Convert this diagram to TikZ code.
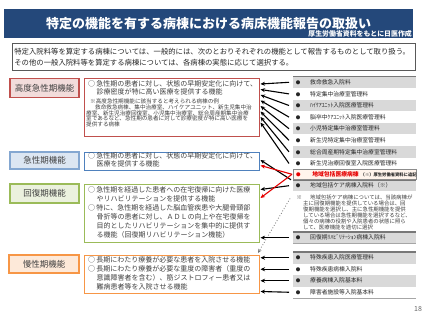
\documentclass[tikz,border=0pt]{standalone}
\usepackage{fontspec}
\setmainfont{Noto Sans CJK JP}
\usetikzlibrary{arrows.meta}
\definecolor{titlebg}{RGB}{36,72,122}
\definecolor{hkline}{RGB}{192,80,77}
\definecolor{hkfill}{RGB}{242,220,219}
\definecolor{kyline}{RGB}{79,129,189}
\definecolor{kyfill}{RGB}{220,230,242}
\definecolor{kaline}{RGB}{155,187,89}
\definecolor{kafill}{RGB}{235,241,222}
\definecolor{maline}{RGB}{247,150,70}
\definecolor{mafill}{RGB}{253,233,217}
\definecolor{rowgray}{RGB}{217,217,217}
\definecolor{divgray}{RGB}{120,120,120}
\definecolor{txtgray}{RGB}{64,64,64}
\definecolor{arrred}{RGB}{230,0,0}
\definecolor{ikifill}{RGB}{255,244,236}
\newcommand\fs[2]{\fontsize{#1}{#2}\selectfont}
\newcommand\bul{\makebox[10pt][c]{\fs{4.5}{5}●}\hspace*{7pt}}
\newcommand\ci{\makebox[8.3pt][l]{○}}
\newcommand\ind{\hspace*{8.3pt}}
\begin{document}
\begin{tikzpicture}[x=1pt,y=-1pt,
  lab/.style={draw, line width=1.3pt, minimum width=69pt, minimum height=19pt, inner sep=0, text=txtgray, font=\fs{8.5}{10}},
  desc/.style={draw, line width=1.1pt, inner sep=0, anchor=north west, minimum width=175pt},
  dtext/.style={anchor=west, inner sep=0, align=left, text=txtgray},
  row/.style={anchor=west, minimum height=11.6pt, text width=123pt, inner sep=0, align=left, font=\fs{5.8}{7}, text=black!85},
  arr/.style={-{Stealth[length=4.5pt,width=4pt]}, line width=1.1pt},
  divl/.style={draw=divgray, line width=1.4pt}
]
\useasboundingbox (0,0) rectangle (427,320);
\fill[white] (0,0) rectangle (427,320);

% title
\node[fill=titlebg, minimum width=409pt, minimum height=29pt, inner sep=0, text=white, font=\fs{13}{15}\bfseries] (bar) at (208.5,23.8) {特定の機能を有する病棟における病床機能報告の取扱い};
\node[anchor=east, inner sep=0, text=white, font=\fs{6.9}{8}\bfseries] (sub) at (412,33.5) {厚生労働省資料をもとに日医作成};

% intro
\node[draw=black!65, line width=.8pt, minimum height=27pt, text width=399pt, inner xsep=2pt, inner ysep=0, align=left, anchor=north west, font=\fs{7.35}{11}, text=black!85] (intro) at (12,43)
{特定入院料等を算定する病棟については、一般的には、次のとおりそれぞれの機能として報告するものとして取り扱う。\\その他の一般入院料等を算定する病棟については、各病棟の実態に応じて選択する。};

% labels
\node[lab, draw=hkline, fill=hkfill] (hk) at (44.5,88) {高度急性期機能};
\node[lab, draw=kyline!70, fill=kyfill, minimum height=17pt] (ky) at (44.5,160.5) {急性期機能};
\node[lab, draw=kaline, fill=kafill] (ka) at (44.5,193.5) {回復期機能};
\node[lab, draw=maline, fill=mafill, minimum width=70pt, minimum height=18pt] (ma) at (44,264) {慢性期機能};

% description boxes
\node[desc, draw=hkline, minimum height=58pt] (hkbox) at (84,78) {};
\node[desc, draw=kyline, minimum height=18pt] (kybox) at (84,152) {};
\node[desc, draw=kaline, minimum height=58pt] (kabox) at (84,184) {};
\node[desc, draw=maline, minimum height=38pt] (mabox) at (84,255) {};

\node[dtext, font=\fs{7}{8.5}] (hkt) at (88,88) {\ci 急性期の患者に対し、状態の早期安定化に向けて、\\\ind 診療密度が特に高い医療を提供する機能};
\node[dtext, font=\fs{5.6}{5.7}] (hkn) at (86,112.9) {\hspace*{4pt}※高度急性期機能に該当すると考えられる病棟の例\\\hspace*{9pt}救命救急病棟、集中治療室、ハイケアユニット、新生児集中治\\療室、新生児治療回復室、小児集中治療室、総合周産期集中治療\\室であるなど、急性期の患者に対して診療密度が特に高い医療を\\提供する病棟};
\node[dtext, font=\fs{7}{8.5}] (kyt) at (88,159.8) {\ci 急性期の患者に対し、状態の早期安定化に向けて、\\\ind 医療を提供する機能};
\node[dtext, font=\fs{7}{8.9}] (kat) at (88,212.2) {\ci 急性期を経過した患者への在宅復帰に向けた医療\\\ind やリハビリテーションを提供する機能\\\ci 特に、急性期を経過した脳血管疾患や大腿骨頸部\\\ind 骨折等の患者に対し、ＡＤＬの向上や在宅復帰を\\\ind 目的としたリハビリテーションを集中的に提供す\\\ind る機能（回復期リハビリテーション機能）};
\node[dtext, font=\fs{7}{9}] (mat) at (88,273.1) {\ci 長期にわたり療養が必要な患者を入院させる機能\\\ci 長期にわたり療養が必要な重度の障害者（重度の\\\ind 意識障害者を含む）、筋ジストロフィー患者又は\\\ind 難病患者等を入院させる機能};

% right list
\node[row, fill=rowgray] (r1) at (293,82.3) {\bul 救命救急入院料};
\node[row] (r2) at (293,93.9) {\bul 特定集中治療室管理料};
\node[row, fill=rowgray] (r3) at (293,105.5) {\bul ﾊｲｹｱﾕﾆｯﾄ入院医療管理料};
\node[row] (r4) at (293,117.1) {\bul 脳卒中ｹｱﾕﾆｯﾄ入院医療管理料};
\node[row, fill=rowgray] (r5) at (293,128.7) {\bul 小児特定集中治療室管理料};
\node[row] (r6) at (293,140.3) {\bul 新生児特定集中治療室管理料};
\node[row, fill=rowgray] (r7) at (293,151.9) {\bul 総合周産期特定集中治療室管理料};
\node[row] (r8) at (293,163.5) {\bul 新生児治療回復室入院医療管理料};
\draw[divl] (r1.north west) -- (r1.north east);

\node[row, fill=rowgray, minimum height=11.4pt] (rcare) at (293,185.7) {\bul 地域包括ケア病棟入院料（※）};
\draw[divl] (rcare.north west) -- (rcare.north east);
\node[row, fill=ikifill, draw=black!45, line width=.6pt, minimum height=9.5pt] (riki) at (293,174.3) {\makebox[10pt][c]{\fs{4.5}{5}\color{arrred}●}\hspace*{9pt}{\color{arrred}\bfseries 地域包括医療病棟}\hspace*{2pt}{\fs{4.3}{5}\bfseries（※）厚生労働省資料に追記}};

\node[anchor=west, inner sep=0, align=left, font=\fs{5.4}{5.95}, text=txtgray] (note) at (296.5,212.2) {※\hspace*{8pt}地域包括ケア病棟については、当該病棟が\\\hspace*{6.5pt}主に回復期機能を提供している場合は、回\\\hspace*{6.5pt}復期機能を選択し、主に急性期機能を提供\\\hspace*{6.5pt}している場合は急性期機能を選択するなど、\\\hspace*{6.5pt}個々の病棟の役割や入院患者の状態に照ら\\\hspace*{6.5pt}して、医療機能を適切に選択};

\node[row, fill=rowgray, minimum height=11.4pt] (rreha) at (293,237.7) {\bul 回復期ﾘﾊﾋﾞﾘﾃｰｼｮﾝ病棟入院料};
\draw[divl] (rreha.north west) -- (rreha.north east);
\draw[draw=black!35, line width=.6pt] (rreha.south west) -- (rreha.south east);

\node[row, fill=rowgray, minimum height=11.5pt] (rc1) at (293,257.75) {\bul 特殊疾患入院医療管理料};
\node[row, minimum height=11.5pt] (rc2) at (293,269.25) {\bul 特殊疾患病棟入院料};
\node[row, fill=rowgray, minimum height=11.5pt] (rc3) at (293,280.75) {\bul 療養病棟入院基本料};
\node[row, minimum height=11.5pt] (rc4) at (293,292.25) {\bul 障害者施設等入院基本料};
\draw[divl] (rc1.north west) -- (rc1.north east);
\draw[draw=black!35, line width=.8pt] (rc4.south west) -- (rc4.south east);

% arrow end points
\foreach \i/\y in {1/84,2/89.5,3/95,4/100.5,5/106,6/111.5,7/117,8/122.5}
  \coordinate (e\i) at (260.5,\y);
\coordinate (ekyred) at (260.5,165.5);
\coordinate (ekared) at (260.5,198);
\coordinate (ekyblk) at (260.5,160);
\coordinate (ekablk) at (260.5,189.5);
\coordinate (ekareha) at (260.5,237.7);
\coordinate (dstart) at (290,198.5);
\coordinate (dend) at (258,253);
\foreach \i/\y in {1/257.75,2/269.25,3/280.75,4/291.5}
  \coordinate (em\i) at (260.5,\y);

% arrows
\foreach \i in {1,...,8}
  \draw[arr] ([xshift=-4pt]r\i.west) -- (e\i);
\draw[arr] ([xshift=-2pt]rcare.north west) -- (ekyblk);
\draw[arr] ([xshift=-4pt]rcare.west) -- (ekablk);
\draw[arr, arrred] ([xshift=-1pt]riki.west) -- (ekyred);
\draw[arr, arrred] ([xshift=-1pt]riki.west) -- (ekared);
\draw[-{Stealth[length=4pt,width=3.5pt]}, draw=black!55, line width=.8pt, dotted] (dstart) -- (dend);
\draw[arr] ([xshift=-4pt]rreha.west) -- (ekareha);
\foreach \i in {1,...,4}
  \draw[arr] ([xshift=-4pt]rc\i.west) -- (em\i);

% page number
\node[font=\fs{7}{8}, text=black!60, inner sep=0] (pg) at (418,309) {18};
\end{tikzpicture}
\end{document}
